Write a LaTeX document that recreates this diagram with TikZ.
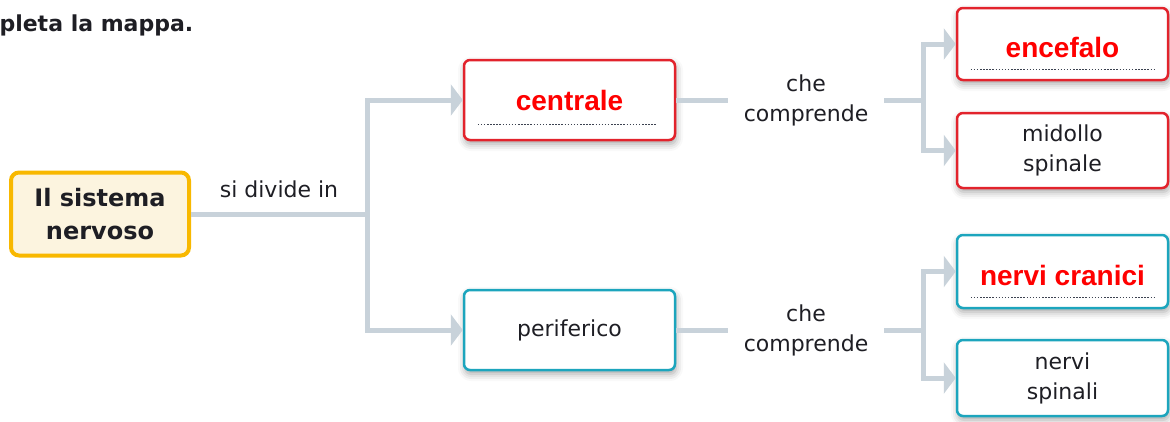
\documentclass[tikz,border=0pt]{standalone}
\usepackage{fontspec}
\setmainfont{DejaVu Sans}
\newfontfamily\arialfont{Liberation Sans}
\usetikzlibrary{positioning}
\usetikzlibrary{arrows.meta, shadows.blur}

\definecolor{linkgray}{HTML}{C8D2DA}
\definecolor{boxred}{HTML}{E2232C}
\definecolor{boxcyan}{HTML}{1CA5BD}
\definecolor{rootorange}{HTML}{F8B800}
\definecolor{rootcream}{HTML}{FCF4DF}
\definecolor{inkdark}{HTML}{1E1E24}
\definecolor{dotgray}{HTML}{3C4250}

\begin{document}
\begin{tikzpicture}[x=1pt,y=-1pt,
  box/.style={rectangle, rounded corners=6pt, line width=2.5pt, fill=white,
    minimum width=211pt, align=center, text=inkdark,
    font=\fontsize{22}{30}\selectfont,
    blur shadow={shadow xshift=1pt, shadow yshift=-4pt, shadow blur radius=7pt, shadow opacity=35}},
  redbox/.style={box, draw=boxred},
  cyanbox/.style={box, draw=boxcyan},
  rootbox/.style={rectangle, rounded corners=8pt, line width=4pt, draw=rootorange, fill=rootcream,
    minimum width=178pt, minimum height=83pt, align=center, text=inkdark,
    font=\bfseries\fontsize{24}{33}\selectfont},
  answer/.style={text=red, font=\arialfont\bfseries\fontsize{28}{30}\selectfont},
  lowanswer/.style={answer, text height=27pt, text depth=0pt},
  linktext/.style={align=center, text=inkdark, inner xsep=16pt, font=\fontsize{22}{30}\selectfont},
  link/.style={draw=linkgray, line width=5pt},
  linkarrow/.style={link, -{Triangle[length=12pt,width=31pt]}},
  dots/.style={draw=dotgray, line width=1.5pt, dash pattern=on 1.5pt off 1.6pt}
]
\useasboundingbox (0,0) rectangle (1170,421);
\node[font=\bfseries\fontsize{22}{26}\selectfont, text=inkdark, anchor=base west] (title) at (-4,31) {pleta la mappa.};

% connectors behind the boxes
\coordinate (split) at (367,214);
\coordinate (splitc) at (923,100);
\coordinate (splitp) at (923,330);
\node[linktext] (compc) at (806,100) {che\\comprende};
\node[linktext] (compp) at (806,330) {che\\comprende};

% boxes
\node[rootbox] (root) at (100,214) {Il sistema\\nervoso};
\node[redbox, answer, minimum height=80pt] (centrale) at (569.5,100) {centrale};
\node[cyanbox, minimum height=80pt] (periferico) at (569.5,330) {periferico};
\node[redbox, lowanswer, minimum height=72pt] (encefalo) at (1062.5,44) {encefalo};
\node[redbox, minimum height=75pt] (midollo) at (1062.5,150.5) {midollo\\spinale};
\node[cyanbox, lowanswer, minimum height=73pt] (cranici) at (1062.5,271.5) {nervi cranici};
\node[cyanbox, minimum height=76pt] (spinali) at (1062.5,378) {nervi\\spinali};

% dotted answer lines
\draw[dots] ([shift={(15,-17)}]centrale.south west) -- ([shift={(-20,-17)}]centrale.south east);
\draw[dots] ([shift={(15,-12)}]encefalo.south west) -- ([shift={(-13,-12)}]encefalo.south east);
\draw[dots] ([shift={(15,-12)}]cranici.south west) -- ([shift={(-13,-12)}]cranici.south east);

\draw[link] (root.east) -- node[above=10pt, text=inkdark, font=\fontsize{22}{30}\selectfont] (divide) {si divide in} (split);
\draw[linkarrow] (split) |- (centrale.west);
\draw[linkarrow] (split) |- (periferico.west);

\draw[link] (centrale.east) -- (compc.west);
\draw[link] (compc.east) -- (splitc);
\draw[linkarrow] (splitc) |- (encefalo.west);
\draw[linkarrow] (splitc) |- (midollo.west);

\draw[link] (periferico.east) -- (compp.west);
\draw[link] (compp.east) -- (splitp);
\draw[linkarrow] (splitp) |- (cranici.west);
\draw[linkarrow] (splitp) |- (spinali.west);

\end{tikzpicture}
\end{document}
